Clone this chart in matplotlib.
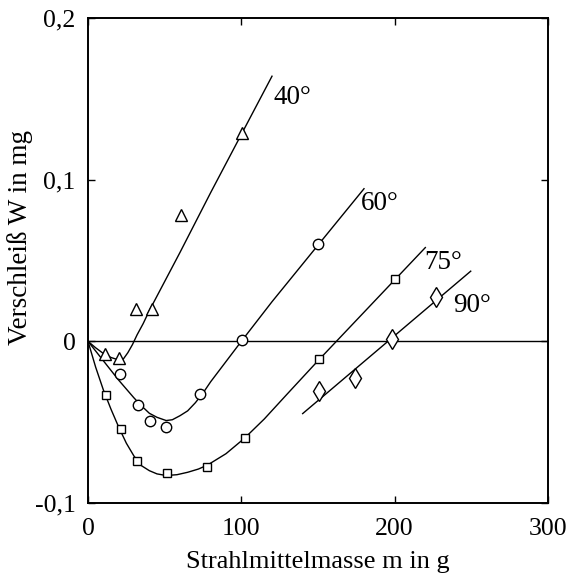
import numpy as np
import matplotlib
matplotlib.use('Agg')
import matplotlib.pyplot as plt

plt.rcParams['font.family'] = ['Liberation Serif', 'DejaVu Serif']

#%% measured points
m40 = [11, 20, 31, 41.5, 60.7, 100.6]
w40 = [-0.008, -0.0105, 0.020, 0.020, 0.078, 0.129]

m60 = [20.9, 32.4, 40.4, 50.7, 73.3, 100.6, 150.2]
w60 = [-0.0204, -0.0395, -0.049, -0.0527, -0.0327, 0.0006, 0.0605]

m75 = [11.5, 21.3, 32, 51.3, 77.8, 102.2, 150.9, 200.3]
w75 = [-0.0333, -0.0543, -0.0743, -0.0817, -0.0776, -0.0599, -0.0111, 0.0383]

m90 = [150.9, 174.4, 198.5, 226.8]
w90 = [-0.031, -0.0228, 0.0016, 0.0276]

#%% fitted curves
c40_x = [0, 5, 10, 15, 20, 23, 26, 29, 32, 36, 40, 45, 50, 60, 80, 100, 120]
c40_y = [0, -0.004, -0.0075, -0.010, -0.0115, -0.011, -0.007, -0.002, 0.004,
         0.011, 0.019, 0.028, 0.037, 0.055, 0.092, 0.128, 0.164]

c60_x = [0, 10, 20, 30, 35, 40, 45, 51, 55, 60, 65, 70, 75, 80, 90, 100, 120, 150, 180]
c60_y = [0, -0.012, -0.024, -0.035, -0.040, -0.0445, -0.047, -0.049, -0.0485,
         -0.046, -0.043, -0.038, -0.032, -0.025, -0.0125, 0.0, 0.0245, 0.0595, 0.0944]

c75_x = [0, 5, 10, 15, 20, 25, 30, 35, 40, 45, 51, 58, 65, 72, 78, 90, 102,
         115, 130, 150, 175, 200, 220]
c75_y = [0, -0.016, -0.030, -0.042, -0.053, -0.063, -0.071, -0.077, -0.080,
         -0.082, -0.083, -0.0825, -0.081, -0.079, -0.0765, -0.0695, -0.060,
         -0.048, -0.0325, -0.012, 0.013, 0.038, 0.058]

c90_x = [140, 249.6]
c90_y = [-0.0447, 0.0434]

labels = ['40°', '60°', '75°', '90°']
label_pos = [(121, 0.151), (178, 0.085), (219, 0.049), (238, 0.022)]

xticks = [0, 100, 200, 300]
yticks = [-0.1, 0, 0.1, 0.2]
yticklabels = ['-0,1', '0', '0,1', '0,2']

#%%
fig = plt.figure(figsize=(5.67, 5.75), dpi=100)
ax = fig.add_axes([88/567, 1-503/575, 460/567, 485/575])

ax.axhline(0, color='black', lw=1.0)

lw = 1.0
ax.plot(c40_x, c40_y, 'k-', lw=lw)
ax.plot(c60_x, c60_y, 'k-', lw=lw)
ax.plot(c75_x, c75_y, 'k-', lw=lw)
ax.plot(c90_x, c90_y, 'k-', lw=lw)

mk = dict(linestyle='none', markerfacecolor='white', markeredgecolor='black',
          markeredgewidth=1.0)
ax.plot(m40, w40, marker='^', markersize=9, **mk)
ax.plot(m60, w60, marker='o', markersize=7.5, **mk)
ax.plot(m75, w75, marker='s', markersize=6, **mk)
ax.plot(m90, w90, marker='d', markersize=10, **mk)

for lab, (x, y) in zip(labels, label_pos):
    ax.text(x, y, lab, fontsize=19.5, ha='left', va='center')

ax.set_xlim(0, 300)
ax.set_ylim(-0.1, 0.2)
ax.set_xticks(xticks)
ax.set_xticklabels([str(t) for t in xticks])
ax.set_yticks(yticks)
ax.set_yticklabels(yticklabels)
ax.tick_params(direction='in', top=True, right=True, length=5, width=1,
               labelsize=18.5)
ax.tick_params(axis='x', pad=11)
ax.tick_params(axis='y', pad=9)
for s in ax.spines.values():
    s.set_linewidth(1.4)

ax.set_xlabel('Strahlmittelmasse m in g', fontsize=19, labelpad=8)
ax.set_ylabel('Verschleiß W in mg', fontsize=19.5)
ax.yaxis.set_label_coords(-0.12, 0.548)

fig.savefig('out.png', dpi=100)
